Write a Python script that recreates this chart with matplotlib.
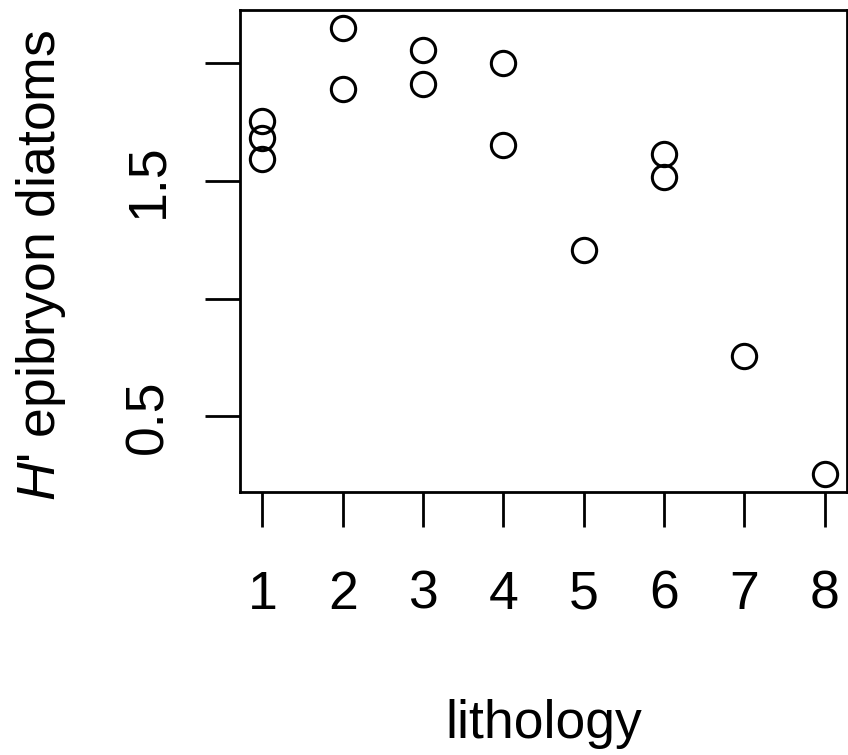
import matplotlib
matplotlib.use("Agg")
import matplotlib.pyplot as plt

plt.rcParams['font.family'] = ['Liberation Sans', 'DejaVu Sans']
plt.rcParams['mathtext.fontset'] = 'custom'
plt.rcParams['mathtext.rm'] = 'Liberation Sans'
plt.rcParams['mathtext.it'] = 'Liberation Sans:italic'

# data
lithology = [1, 1, 1, 2, 2, 3, 3, 4, 4, 5, 6, 6, 7, 8]
h_diversity = [1.751, 1.679, 1.590, 2.148, 1.890, 2.055, 1.911,
               2.000, 1.649, 1.206, 1.615, 1.514, 0.758, 0.255]
x_ticks = [1, 2, 3, 4, 5, 6, 7, 8]
y_ticks = [0.5, 1.0, 1.5, 2.0]
y_tick_labels = ['0.5', '', '1.5', '']
x_label = 'lithology'
y_label = r"$\mathit{H}$' epibryon diatoms"

FS = 38.5
W, H = 848, 755
fig = plt.figure(figsize=(W / 100, H / 100), dpi=100)
ax = fig.add_axes([240 / W, 1 - 492 / H, 607 / W, 482 / H])

ax.plot(lithology, h_diversity, linestyle='none', marker='o', markersize=17.5,
        markerfacecolor='none', markeredgecolor='black', markeredgewidth=2.2,
        clip_on=False)

xr = max(x_ticks) - min(x_ticks)
ax.set_xlim(min(x_ticks) - 0.04 * xr, max(x_ticks) + 0.04 * xr)
yr = max(h_diversity) - min(h_diversity)
ax.set_ylim(min(h_diversity) - 0.04 * yr, max(h_diversity) + 0.04 * yr)

for s in ax.spines.values():
    s.set_linewidth(2.0)

ax.set_xticks(x_ticks)
ax.set_xticklabels([str(v) for v in x_ticks])
ax.set_yticks(y_ticks)
ax.set_yticklabels(y_tick_labels)

ax.tick_params(axis='both', direction='out', length=25, width=2.0, labelsize=FS)
ax.tick_params(axis='x', pad=59)
ax.tick_params(axis='y', pad=31)

for lab in ax.get_xticklabels():
    lab.set_verticalalignment('baseline')
for lab in ax.get_yticklabels():
    lab.set_rotation(90)
    lab.set_rotation_mode('anchor')
    lab.set_horizontalalignment('center')
    lab.set_verticalalignment('baseline')

fig.text(543.5 / W, 1 - 738 / H, x_label, fontsize=FS, ha='center', va='baseline')
fig.text(55 / W, 1 - 265 / H, y_label, fontsize=FS, rotation=90,
         rotation_mode='anchor', ha='center', va='baseline')

fig.savefig('out.png', dpi=100)
